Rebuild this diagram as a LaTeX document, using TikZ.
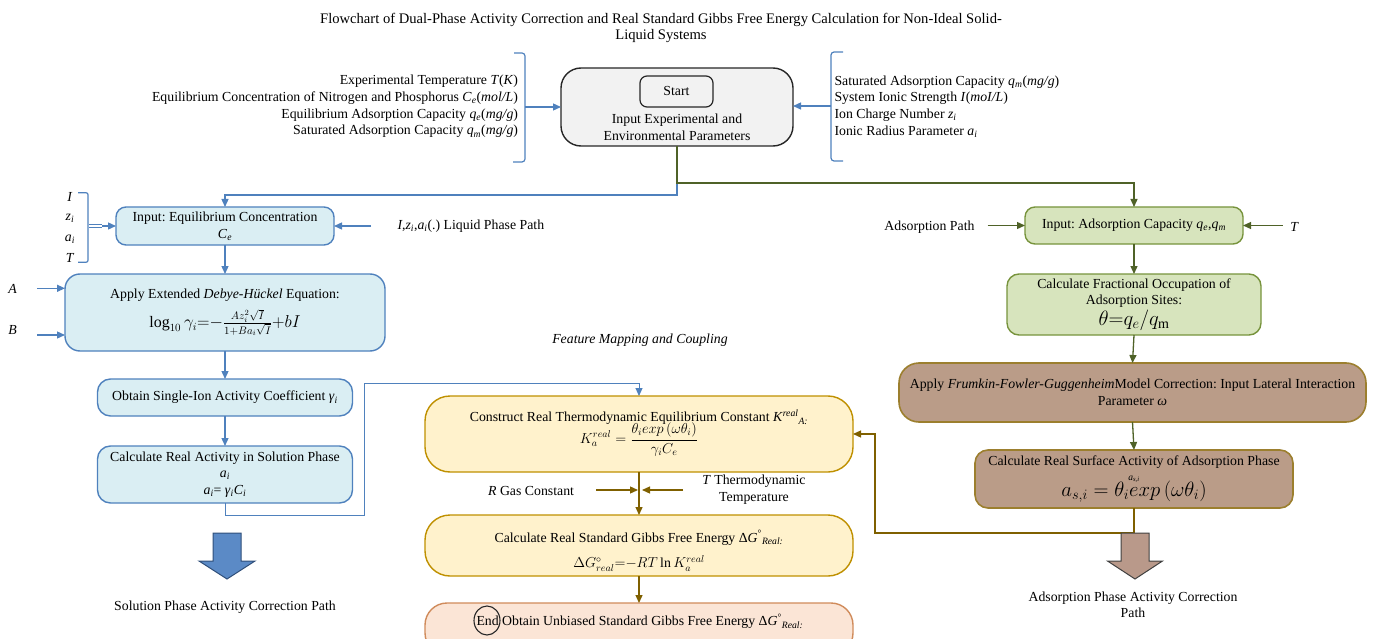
\documentclass[tikz,border=0pt]{standalone}
\usepackage{fontspec}
\setmainfont{Liberation Serif}
\usetikzlibrary{arrows.meta,shapes.geometric,calc}
\definecolor{bline}{HTML}{4F81BD}
\definecolor{bborder}{HTML}{4F81BD}
\definecolor{bfill}{HTML}{DAEEF3}
\definecolor{gline}{HTML}{4F6228}
\definecolor{gborder}{HTML}{77933C}
\definecolor{gfill}{HTML}{D7E4BD}
\definecolor{yline}{HTML}{7F6000}
\definecolor{yborder}{HTML}{BF9000}
\definecolor{yfill}{HTML}{FFF2CC}
\definecolor{brfill}{HTML}{BA9C88}
\definecolor{brborder}{HTML}{9C7F2E}
\definecolor{efill}{HTML}{FBE5D6}
\definecolor{eborder}{HTML}{D08B5B}
\definecolor{sfill}{HTML}{F2F2F2}
\definecolor{bigblue}{HTML}{5B8AC6}
\definecolor{bigblueb}{HTML}{2F4F7A}
\definecolor{bigbrown}{HTML}{B9998A}
\newcommand\basefont{\fontsize{13.8}{16.8}\selectfont\frenchspacing}
\newcommand\vi[1]{\textit{#1}}
\newcommand\vsub[2]{\textit{#1}\textsubscript{\textit{#2}}}
\begin{document}
\begin{tikzpicture}[x=1pt,y=-1pt,
  every node/.style={font=\basefont, inner sep=0pt, outer sep=0pt},
  tip/.style={-{Triangle[length=8pt,width=7pt]}},
  barrow/.style={draw=bline, line width=1.3pt, tip},
  garrow/.style={draw=gline, line width=1.3pt, tip},
  yarrow/.style={draw=yline, line width=1.3pt, tip},
  bluebox/.style={draw=bborder, fill=bfill, line width=1.4pt, rounded corners=#1, align=center},
  greenbox/.style={draw=gborder, fill=gfill, line width=1.4pt, rounded corners=#1, align=center},
  brownbox/.style={draw=brborder, fill=brfill, line width=1.6pt, rounded corners=#1, align=center},
  yellowbox/.style={draw=yborder, fill=yfill, line width=1.4pt, rounded corners=#1, align=center},
  endbox/.style={draw=eborder, fill=efill, line width=1.4pt, rounded corners=#1, align=center},
  bracket/.style={draw=bline, line width=1.2pt, rounded corners=3pt},
]
\useasboundingbox (0,0) rectangle (1378,639);
\clip (0,0) rectangle (1378,639);

% title
\node[align=center, font=\fontsize{14.6}{16.2}\selectfont] (title) at (661,28) {Flowchart of Dual-Phase Activity Correction and Real Standard Gibbs Free Energy Calculation for Non-Ideal Solid-\\Liquid Systems};

% start block
\node[draw=black!85, fill=sfill, line width=1.4pt, rounded corners=20pt, minimum width=232, minimum height=78] (start) at (677,107) {};
\node[draw=black!85, fill=sfill, line width=1.2pt, rounded corners=7pt, minimum width=73, minimum height=31] (startin) at (676.5,91.5) {Start};
\node[align=center] (starttxt) at (677,127) {Input Experimental and\\Environmental Parameters};

% parameter lists
\node[anchor=east, align=right] (lparams) at (518,106.5) {Experimental Temperature \vi{T}(\vi{K})\\Equilibrium Concentration of Nitrogen and Phosphorus \vsub{C}{e}(\vi{mol/L})\\Equilibrium Adsorption Capacity \vsub{q}{e}(\vi{mg/g})\\Saturated Adsorption Capacity \vsub{q}{m}(\vi{mg/g})};
\node[anchor=west, align=left] (rparams) at (834.5,106.5) {Saturated Adsorption Capacity \vsub{q}{m}(\vi{mg/g})\\System Ionic Strength \vi{I}(\vi{moI/L})\\Ion Charge Number \vsub{z}{i}\\Ionic Radius Parameter \vsub{a}{i}};
\draw[bracket] (514,53) -| (525,162) -- (513,162);
\draw[bracket] (843,52) -| (831,161) -- (843,161);
\coordinate (lbk) at (525,107);
\coordinate (rbk) at (831,106);
\draw[barrow] (lbk) -- (start.west);
\draw[barrow] (rbk) -- (start.east |- rbk);

% left column
\node[bluebox=10pt, minimum width=218, minimum height=38] (b1) at (225,226) {Input: Equilibrium Concentration\\\vsub{C}{e}};
\node[bluebox=15pt, minimum width=320, minimum height=77] (b2) at (225,312.5) {Apply Extended \textit{Debye-Hückel} Equation:\\[7pt]{\fontsize{16}{16}\selectfont $\log_{10}\gamma_i{=}{-}\frac{Az_i^2\sqrt{I}}{1+Ba_i\sqrt{I}}{+}bI$}};
\node[bluebox=13pt, minimum width=255, minimum height=37] (b3) at (225,397.5) {Obtain Single-Ion Activity Coefficient \vsub{γ}{i}};
\node[bluebox=13pt, minimum width=255, minimum height=57] (b4) at (225,474.5) {Calculate Real Activity in Solution Phase\\\vsub{a}{i}\\\vsub{a}{i}= \vsub{γ}{i}\vsub{C}{i}};

\node (lI) at (70,196.7) {\vi{I}};
\node (lz) at (70,218.3) {\vsub{z}{i}};
\node (la) at (70,239) {\vsub{a}{i}};
\node (lT) at (70,258.3) {\vi{T}};
\draw[bracket, rounded corners=2pt] (78,192.7) -| (88,262.3) -- (78,262.3);
\coordinate (dbl1) at (89,226);
\coordinate (dbl2) at (102,226);
\draw[draw=bline, line width=0.8pt, double=white, double distance=1.6pt] (dbl1) -- (dbl2);
\draw[barrow] (dbl2) -- (b1.west);
\node[anchor=west] (liq) at (397.5,226) {\vi{I},\vsub{z}{i},\vsub{a}{i}(.) Liquid Phase Path};
\coordinate (liqs) at (371,226);
\draw[barrow] (liqs) -- (b1.east);

\node (lA) at (12.5,289) {\vi{A}};
\node (lB) at (12.5,330) {\vi{B}};
\coordinate (Ain) at (37,288.3);
\coordinate (Bin) at (37,335);
\draw[barrow] (Ain) -- ([yshift=24.2pt]b2.west);
\draw[barrow] (Bin) -- ([yshift=-22.5pt]b2.west);

\draw[barrow] (b1.south) -- (b2.north);
\draw[barrow] (b2.south) -- (b3.north);
\draw[barrow] (b3.south) -- (b4.north);

\draw[fill=bigblue, draw=bigblueb, line width=1pt] (213,533) -- (241,533) -- (241,561) -- (255,561) -- (227,579) -- (199,561) -- (213,561) -- cycle;
\node (solpath) at (225,607) {Solution Phase Activity Correction Path};

% middle column
\node (feat) at (640,340) {\textit{Feature Mapping and Coupling}};
\node[yellowbox=25pt, minimum width=428, minimum height=76] (y5) at (639,434) {};
\node[align=center] (y5t) at (639,433) {Construct Real Thermodynamic Equilibrium Constant \vi{K}\textsuperscript{\vi{real}}\textsubscript{\vi{A:}}\\[-3pt]{\fontsize{14.5}{14.5}\selectfont $\displaystyle K_a^{real}=\frac{\theta_i exp\left(\omega\theta_i\right)}{\gamma_i C_e}$}};
\node[yellowbox=25pt, minimum width=428, minimum height=61] (y6) at (639,545.5) {};
\node[align=center] (y6t) at (639,551) {Calculate Real Standard Gibbs Free Energy Δ\vi{G}\textsuperscript{°}\textsubscript{\vi{Real:}}\\[9pt]$\Delta G^{\circ}_{real}{=}{-}RT\ln K_a^{real}$};
\node[endbox=22pt, minimum width=428, minimum height=52] (endb) at (639,629) {};
\node[anchor=west] (endt) at (476.5,621.5) {End Obtain Unbiased Standard Gibbs Free Energy Δ\vi{G}\textsuperscript{°}\textsubscript{\vi{Real:}}};
\node[ellipse, draw=black!85, line width=1.1pt, minimum width=26, minimum height=29] (endc) at (487,620.5) {};

\draw[yarrow] (y5.south) -- (y6.north);
\draw[yarrow] (y6.south) -- (endb.north);
\node[anchor=east] (lR) at (574,491) {\vi{R} Gas Constant};
\coordinate (Rs) at (596,490);
\coordinate (Re) at (638,490);
\coordinate (Ts) at (683,490);
\coordinate (Te) at (642,490);
\draw[yarrow] (Rs) -- (Re);
\draw[yarrow] (Ts) -- (Te);
\node[align=center] (lTT) at (754,490) {\vi{T} Thermodynamic\\Temperature};

% right column
\node[greenbox=10pt, minimum width=218, minimum height=37] (g1) at (1134,225.5) {Input: Adsorption Capacity \vsub{q}{e},\vsub{q}{m}};
\node[greenbox=12pt, minimum width=254, minimum height=61] (g2) at (1134,304.5) {Calculate Fractional Occupation of\\Adsorption Sites:\\[1pt]{\fontsize{20}{20}\selectfont $\theta{=}q_e/q_{\mathrm{m}}$}};
\node[brownbox=20pt, minimum width=467, minimum height=59] (br1) at (1132.5,392.5) {Apply \textit{Frumkin-Fowler-Guggenheim}Model Correction: Input Lateral Interaction\\Parameter \vi{ω}};
\node[brownbox=13pt, minimum width=318, minimum height=58] (br2) at (1134,479) {Calculate Real Surface Activity of Adsorption Phase\\[-2pt]{\fontsize{9.5}{9.5}\selectfont \vsub{a}{s,i}}\\[-3pt]{\fontsize{21}{21}\selectfont $a_{s,i}=\theta_i exp\left(\omega\theta_i\right)$}};

\node[anchor=east] (adsp) at (974.5,226.7) {Adsorption Path};
\coordinate (adsS) at (987.5,225.5);
\draw[garrow] (adsS) -- (g1.west);
\node (lT2) at (1294.5,226.7) {\vi{T}};
\coordinate (TS2) at (1282.5,225.5);
\draw[garrow] (TS2) -- (g1.east);

\draw[garrow] (g1.south) -- (g2.north);
\draw[garrow] (g2.south) -- (br1.north);
\draw[garrow] (br1.south) -- (br2.north);

% cross-column connectors
\draw[barrow] (start.south) -- (677,195) -| (b1.north);
\draw[garrow] (start.south) -- (677,183) -| (g1.north);
\draw[barrow, line width=1pt] (b4.south) -- ++(0,12) -| (364,383) -| (y5.north);
\draw[yarrow] (br2.south) -- ++(0,25) -| ($(y5.east)+(22,0)$) -- (y5.east);

\draw[fill=bigbrown, draw=black!75, line width=1pt] (1121,533) -- (1149,533) -- (1149,561) -- (1162.5,561) -- (1135,579) -- (1107.5,561) -- (1121,561) -- cycle;
\node[align=center] (adspath) at (1133,604.7) {Adsorption Phase Activity Correction\\Path};
\end{tikzpicture}
\end{document}
